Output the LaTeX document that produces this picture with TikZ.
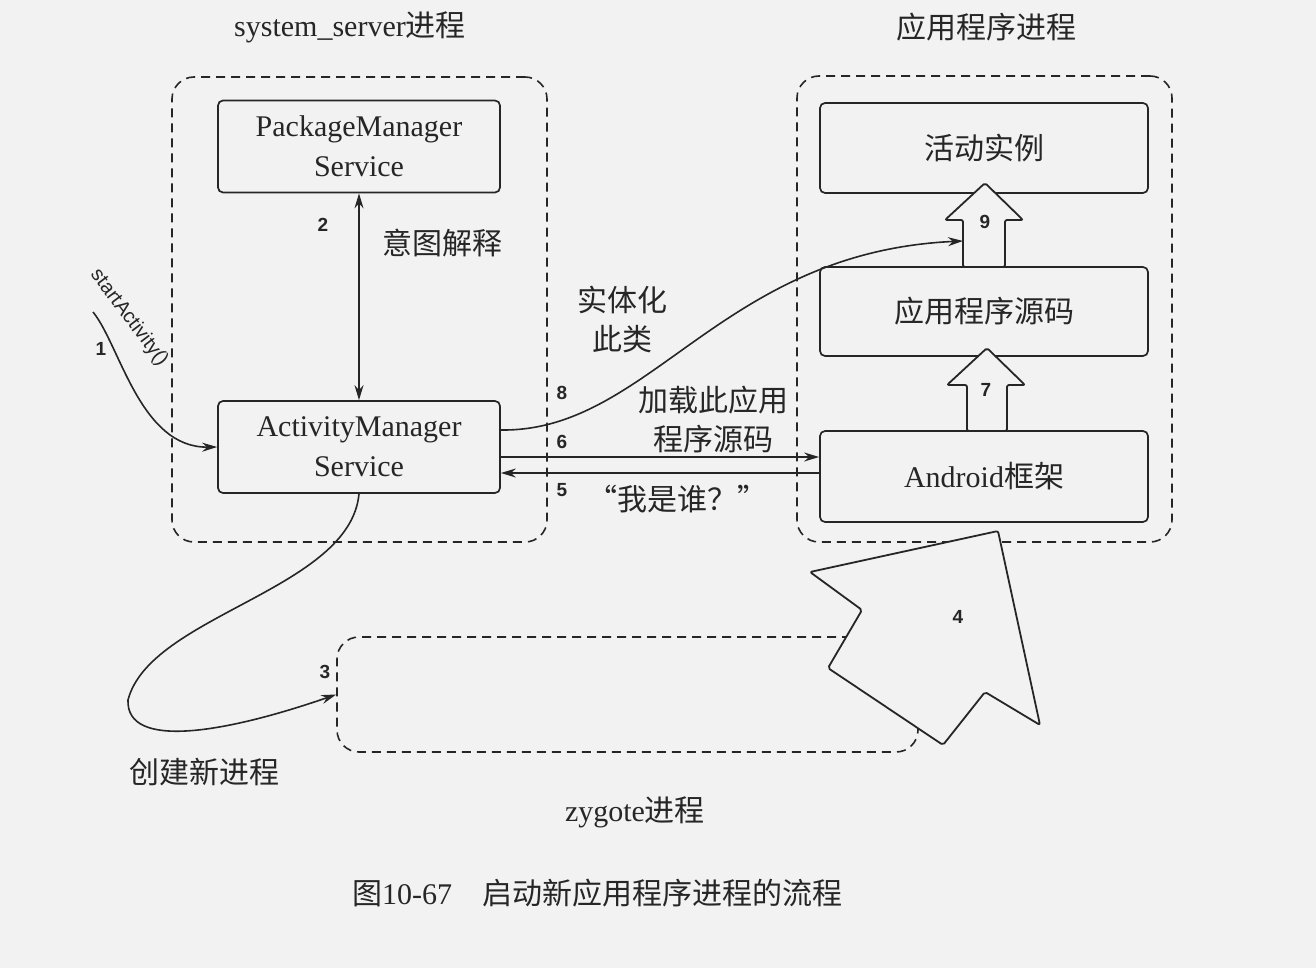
\documentclass[tikz,border=0pt]{standalone}
\usepackage{fontspec}
\setmainfont{Liberation Serif}
\newfontfamily\cjk{Noto Sans CJK SC}
\newfontfamily\numfont{Liberation Sans}
\usetikzlibrary{arrows.meta}
\definecolor{ink}{gray}{0.15}
\definecolor{paper}{gray}{0.95}
\tikzset{
  every node/.style={text=ink},
  svcbox/.style={draw=ink, line width=1.7pt, rounded corners=5pt, align=center,
     minimum width=282pt, minimum height=92pt, inner sep=0pt,
     font=\fontsize{30}{40}\selectfont},
  appbox/.style={svcbox, minimum width=328pt},
  procbox/.style={draw=ink, line width=1.6pt, dash pattern=on 9pt off 6pt,
     rounded corners=22pt, inner sep=0pt},
  lbl/.style={font=\fontsize{30}{40}\selectfont, align=center, inner sep=0pt},
  num/.style={font=\numfont\bfseries\fontsize{19}{22}\selectfont, inner sep=0pt},
  myhead/.tip={Stealth[length=15pt,width=9pt]},
  arr/.style={draw=ink, line width=1.6pt, -myhead},
  blockarrow/.style={draw=ink, line width=1.8pt, fill=paper, rounded corners=2pt, line join=round},
}
\begin{document}
\begin{tikzpicture}[x=1pt, y=-1pt]
\fill[paper] (0,0) rectangle (1316,968);
\useasboundingbox (0,0) rectangle (1316,968);

% process containers
\node[procbox, minimum width=375pt, minimum height=465pt] (ss) at (359.5,309.5) {};
\node[procbox, minimum width=375pt, minimum height=466pt] (ap) at (984.5,309) {};
\node[procbox, minimum width=581pt, minimum height=115pt] (zyg) at (627.5,694.5) {};

% titles
\node[lbl] (tss) at (350,27) {system\_server{\cjk 进程}};
\node[lbl] (tap) at (986,27) {\cjk 应用程序进程};
\node[lbl] (tzy) at (635,812) {zygote{\cjk 进程}};
\node[lbl] (tnew) at (204,772) {\cjk 创建新进程};
\node[lbl] (cap) at (597,893) {{\cjk 图}10-67\hspace{30pt}{\cjk 启动新应用程序进程的流程}};

% service boxes
\node[svcbox] (pms) at (359,146.5) {PackageManager\\Service};
\node[svcbox] (ams) at (359,447) {ActivityManager\\Service};

% app boxes
\node[appbox, minimum height=90pt] (act) at (984,148) {\cjk 活动实例};
\node[appbox, minimum height=89pt] (src) at (984,311.5) {\cjk 应用程序源码};
\node[appbox, minimum height=91pt] (fw) at (984,476.5) {Android{\cjk 框架}};

% block arrows 9 and 7
\draw[blockarrow] (985,183) -- (1023,220) -- (1005,220) -- (1005,267) -- (963,267) -- (963,220) -- (945,220) -- cycle;
\draw[blockarrow] (987,348) -- (1025,385) -- (1007,385) -- (1007,431) -- (967,431) -- (967,385) -- (947,385) -- cycle;
\node[num] (n9) at (985,222) {9};
\node[num] (n7) at (986,390) {7};

% step 1
\coordinate (s1) at (93,312);
\draw[arr] (s1) .. controls (120,345) and (140,448) .. (ams.west);
\node[font=\numfont\fontsize{20}{24}\selectfont, rotate=-53, inner sep=0pt] (sa) at (129,318) {startActivity()};
\node[num] (n1) at (101,349) {1};

% step 2
\draw[draw=ink, line width=1.6pt, myhead-myhead] (pms.south) -- (ams.north);
\node[num] (n2) at (323,225) {2};
\node[lbl] (l2) at (442,243) {\cjk 意图解释};

% steps 6 and 5
\coordinate (p6) at ([yshift=-10pt]ams.east);
\coordinate (p5) at ([yshift=-26pt]ams.east);
\draw[arr] (p6) -- (p6 -| fw.west);
\draw[arr] (p5 -| fw.west) -- (p5);
\node[num] (n6) at (562,442) {6};
\node[num] (n5) at (562,490) {5};
\node[lbl] (l6) at (713,420) {\cjk 加载此应用\\[-1pt]\cjk 程序源码};
\node[lbl] (l5) at (677,499) {\cjk “我是谁？”};

% step 8
\coordinate (p8) at ([yshift=17pt]ams.east);
\coordinate (a9l) at (963,241);
\draw[arr] (p8) .. controls (650,432) and (720,252) .. (a9l);
\node[num] (n8) at (562,393) {8};
\node[lbl] (l8) at (622,319) {\cjk 实体化\\[-1pt]\cjk 此类};

% step 3
\coordinate (m3) at (128,700);
\draw[arr] (ams.south) .. controls (350,590) and (150,615) .. (m3) .. controls (126,750) and (225,733) .. (zyg.west);
\node[num] (n3) at (325,672) {3};

% step 4 big arrow
\draw[blockarrow] (998,531) -- (1040,725) -- (985,692) -- (943,745) -- (828,668) -- (862,610) -- (810,572) -- cycle;
\node[num] (n4) at (958,617) {4};
\end{tikzpicture}
\end{document}
